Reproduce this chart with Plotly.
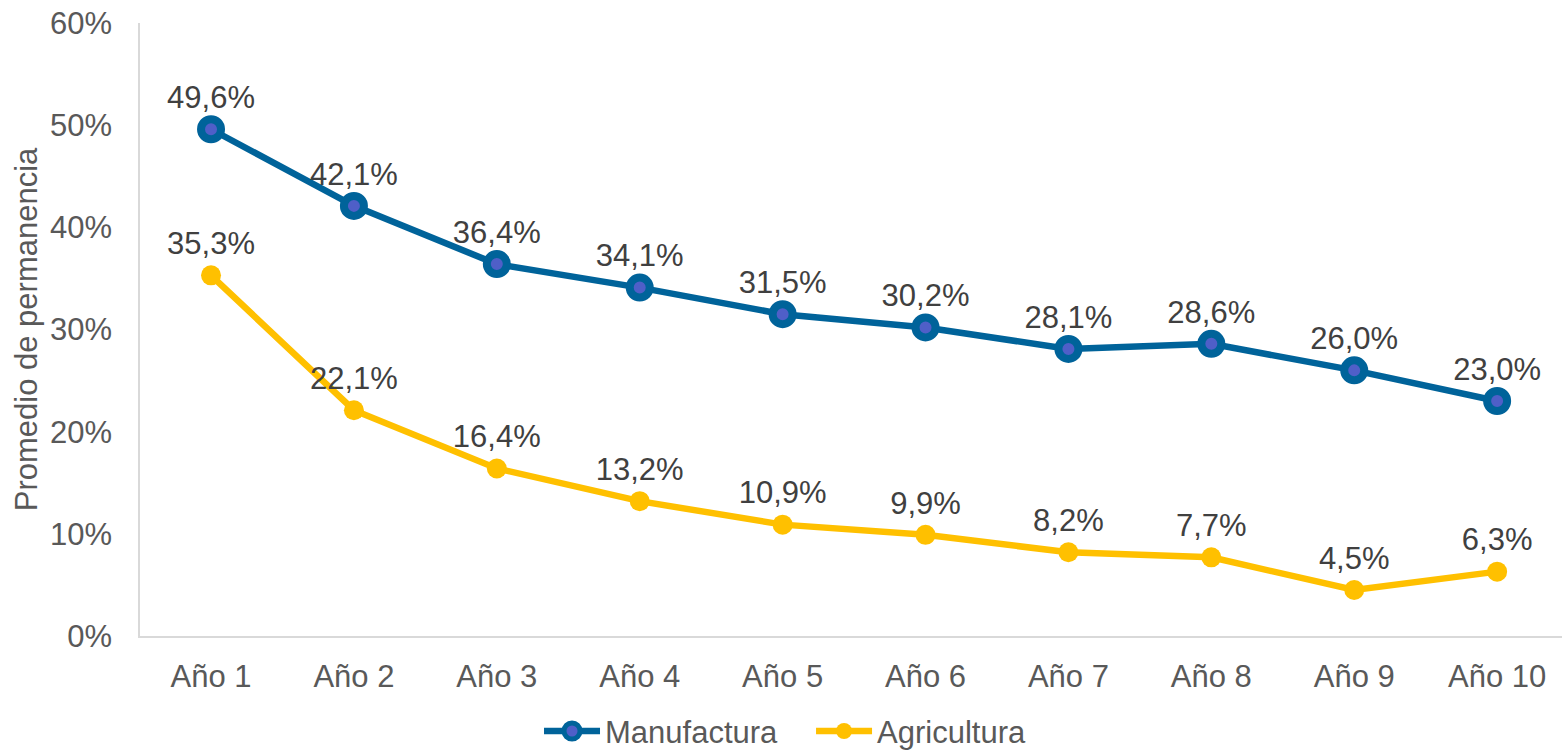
import plotly.graph_objects as go

categories = ["Año 1", "Año 2", "Año 3", "Año 4", "Año 5", "Año 6", "Año 7", "Año 8", "Año 9", "Año 10"]
manufactura = [49.6, 42.1, 36.4, 34.1, 31.5, 30.2, 28.1, 28.6, 26.0, 23.0]
agricultura = [35.3, 22.1, 16.4, 13.2, 10.9, 9.9, 8.2, 7.7, 4.5, 6.3]
y_ticks = [0, 10, 20, 30, 40, 50, 60]

def fmt(v):
    return f"{v:.1f}%".replace(".", ",")

FONT = "Liberation Sans, Arial"
fig = go.Figure()
fig.add_trace(go.Scatter(
    x=categories, y=manufactura, name="Manufactura", mode="lines+markers+text",
    line=dict(color="#00639A", width=6.5),
    marker=dict(size=20, color="#4F5FC8", line=dict(color="#00639A", width=8)),
    text=[fmt(v) for v in manufactura], textposition="top center",
    textfont=dict(size=31, color="#404040", family=FONT),
    legend="legend",
))
fig.add_trace(go.Scatter(
    x=categories, y=agricultura, name="Agricultura", mode="lines+markers+text",
    line=dict(color="#FFC000", width=6.5),
    marker=dict(size=20, color="#FFC000", line=dict(color="#FFC000", width=0)),
    text=[fmt(v) for v in agricultura], textposition="top center",
    textfont=dict(size=31, color="#404040", family=FONT),
    legend="legend2",
))

leg_common = dict(orientation="h", y=-0.1115, yanchor="top", xanchor="left",
                  font=dict(size=31, color="#595959"), itemwidth=56,
                  bgcolor="rgba(0,0,0,0)")

fig.update_layout(
    width=1562, height=751,
    margin=dict(l=140, r=0, t=23, b=115, autoexpand=False),
    plot_bgcolor="white", paper_bgcolor="white",
    font=dict(family=FONT, color="#595959", size=31),
    showlegend=True,
    legend=dict(x=0.2806, **leg_common),
    legend2=dict(x=0.4719, **leg_common),
    xaxis=dict(showgrid=False, showline=True, linecolor="#D9D9D9", linewidth=1.5,
               range=[-0.497, 9.454], automargin=False,
               ticks="", tickfont=dict(size=31, color="#595959"), ticklabelstandoff=12),
    yaxis=dict(range=[0, 60], tickvals=y_ticks, ticktext=[f"{v}%" for v in y_ticks],
               showgrid=False, showline=True, linecolor="#D9D9D9", linewidth=1.5,
               ticks="", tickfont=dict(size=31, color="#595959"), ticklabelstandoff=20,
               zeroline=False, automargin=False,
               title=dict(text="Promedio de permanencia", font=dict(size=31, color="#595959"), standoff=3)),
)
fig.write_html("out.html", config={"displayModeBar": False},
               post_script="document.body.style.margin='0px';document.documentElement.style.overflow='hidden';")
